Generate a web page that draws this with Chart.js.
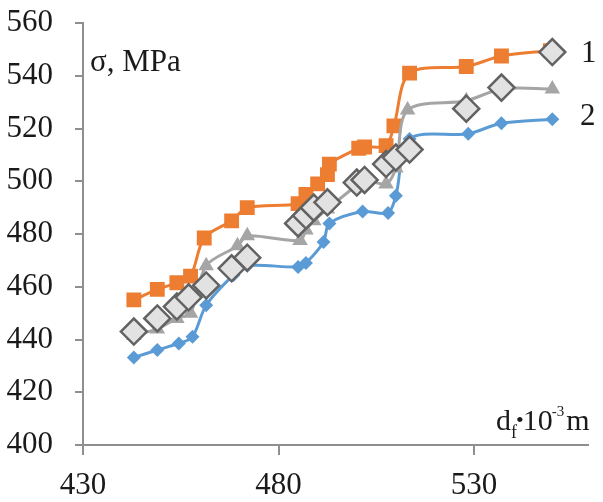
<!DOCTYPE html>
<html>
<head>
<meta charset="utf-8">
<script src="https://cdn.jsdelivr.net/npm/chart.js@4.4.1/dist/chart.umd.min.js"></script>
<style>
	html, body { margin: 0; padding: 0; background: #fff; }
	#wrap { width: 603px; height: 502px; }
</style>
</head>
<body>
<div id="wrap"><canvas id="chart" width="603" height="502"></canvas></div>
<script>
const xTicks = [430, 480, 530];
const yTicks = [400, 420, 440, 460, 480, 500, 520, 540, 560];

// curve 1 (orange squares)
const curve1X = [443, 449, 454, 457.5, 461, 468, 472, 485, 487, 490, 492.5, 493, 500.5, 502, 507.5, 509.5, 513.5, 528, 537, 549.5];
const curve1Y = [455, 459, 461.5, 464, 478.5, 485, 490, 491.5, 495, 499, 502.5, 506.5, 512.5, 513, 513.5, 521, 541, 543.5, 547.5, 549.5];

// middle curve (grey triangles)
const curveMidX = [443, 449, 454, 457.5, 461.5, 469.5, 472, 485.5, 487, 489, 492.5, 500, 502, 507.5, 510, 513, 528, 537, 550];
const curveMidY = [441.5, 444, 448, 450, 468, 475.5, 479.3, 477.5, 481.5, 485, 489.5, 498.5, 500.5, 499, 505, 527, 530.5, 535, 535];

// curve 2 (blue diamonds)
const curve2X = [443, 449, 454.5, 458, 461.5, 468.5, 472, 485, 487, 491.5, 493, 501.5, 508, 510, 513.5, 528.5, 537, 550];
const curve2Y = [433.2, 436, 438.5, 441, 453, 464.5, 468, 467.5, 469, 477, 484, 488.5, 488, 494.5, 516, 518, 522, 523.5];

// measured points (open diamonds)
const measuredX = [443, 449, 454, 457, 461.5, 468, 472, 485, 487, 489, 492.5, 500, 502, 507.5, 510, 513.5, 528, 537, 550];
const measuredY = [443, 448, 452.5, 456, 460.5, 467, 471, 484, 487, 490, 492, 499.5, 500.5, 506.5, 509, 512, 527.5, 535.5, 549];

const serif = "'Liberation Serif', 'Times New Roman', serif";
const axisColor = '#8f8f8f';
const textColor = '#1a1a1a';

const toPoints = (xs, ys) => xs.map((x, i) => ({ x, y: ys[i] }));

const textPlugin = {
	id: 'chartTexts',
	afterDraw(chart) {
		const { ctx, chartArea } = chart;
		ctx.save();
		ctx.fillStyle = textColor;
		ctx.textAlign = 'left';
		ctx.textBaseline = 'alphabetic';
		ctx.font = `31px ${serif}`;
		ctx.fillText('σ, MPa', chartArea.left + 7, 71);
		ctx.fillText('1', 581, 62);
		ctx.fillText('2', 580, 125);

		// d_f•10^-3 m
		let x = 496;
		const base = 430;
		const part = (text, size, dy, gap = 0) => {
			ctx.font = `${size}px ${serif}`;
			ctx.fillText(text, x, base + dy);
			x += ctx.measureText(text).width + gap;
		};
		part('d', 30, 0);
		part('f', 18, 8, -1);
		part('•', 22, -3, -1);
		part('10', 30, 0, -1);
		part('-3', 15, -14, 2);
		part('m', 30, 0);
		ctx.restore();
	},
};

new Chart(document.getElementById('chart'), {
	type: 'line',
	data: {
		datasets: [
			{
				data: toPoints(measuredX, measuredY),
				showLine: false,
				pointStyle: 'rectRot',
				pointRadius: 13,
				backgroundColor: '#e2e2e2',
				borderColor: '#626262',
				pointBorderWidth: 2.5,
			},
			{
				data: toPoints(curveMidX, curveMidY),
				borderColor: '#a5a5a5',
				backgroundColor: '#a5a5a5',
				borderWidth: 3,
				tension: 0.3,
				pointStyle: 'triangle',
				pointRadius: 9,
				pointBorderWidth: 0,
			},
			{
				data: toPoints(curve1X, curve1Y),
				borderColor: '#ed7d31',
				backgroundColor: '#ed7d31',
				borderWidth: 3,
				tension: 0.3,
				pointStyle: 'rect',
				pointRadius: 10.5,
				pointBorderWidth: 0,
			},
			{
				data: toPoints(curve2X, curve2Y),
				borderColor: '#5b9bd5',
				backgroundColor: '#5b9bd5',
				borderWidth: 3,
				tension: 0.3,
				pointStyle: 'rectRot',
				pointRadius: 7,
				pointBorderWidth: 0,
			},
		],
	},
	options: {
		responsive: false,
		animation: false,
		layout: { padding: { top: 23, right: 0, left: 0, bottom: 0 } },
		plugins: {
			legend: { display: false },
			tooltip: { enabled: false },
		},
		scales: {
			x: {
				type: 'linear',
				min: 430,
				max: 559,
				afterBuildTicks: (scale) => { scale.ticks = xTicks.map((value) => ({ value })); },
				afterFit: (scale) => { scale.height = 57; },
				border: { color: axisColor, width: 2 },
				grid: { drawOnChartArea: false, tickLength: 10, color: axisColor, lineWidth: 2 },
				ticks: { font: { family: serif, size: 31 }, color: textColor, padding: 12, maxRotation: 0 },
			},
			y: {
				type: 'linear',
				min: 400,
				max: 560,
				afterBuildTicks: (scale) => { scale.ticks = yTicks.map((value) => ({ value })); },
				afterFit: (scale) => {
					scale.width = 83;
					scale.paddingTop = 0;
					scale.paddingBottom = 0;
				},
				border: { color: axisColor, width: 2 },
				grid: { drawOnChartArea: false, tickLength: 8, color: axisColor, lineWidth: 2 },
				ticks: { font: { family: serif, size: 31 }, color: textColor, padding: 22 },
			},
		},
	},
	plugins: [textPlugin],
});
</script>
</body>
</html>
